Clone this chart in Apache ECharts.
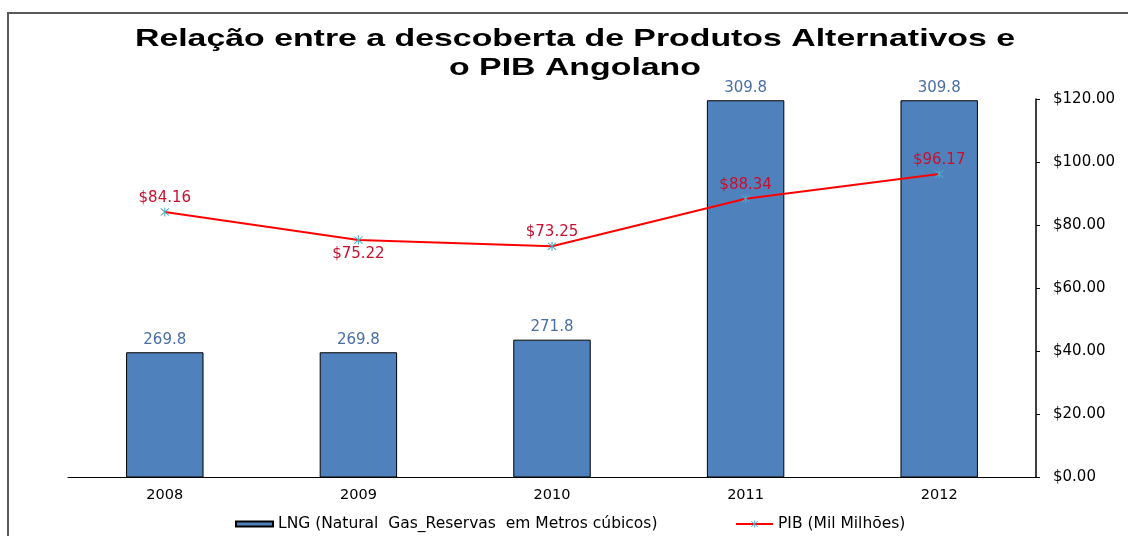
<!DOCTYPE html>
<html>
<head>
<meta charset="utf-8">
<script src="https://cdn.jsdelivr.net/npm/echarts@6/dist/echarts.min.js"></script>
<style>
  html, body { margin: 0; padding: 0; background: #fff; }
  #chart { width: 1128px; height: 536px; }
</style>
</head>
<body>
<div id="chart"></div>
<script>
    // anos e valores
    var years = ['2008', '2009', '2010', '2011', '2012'];
    var lngValues = [269.8, 269.8, 271.8, 309.8, 309.8];
    var pibValues = [84.16, 75.22, 73.25, 88.34, 96.17];
    var pibLabelPos = ['top', 'bottom', 'top', 'top', 'top'];
    var dollarTicks = { min: 0, max: 120, interval: 20 };

    var lngName = 'LNG (Natural  Gas_Reservas  em Metros cúbicos)';
    var pibName = 'PIB (Mil Milhões)';
    var wideFont = '"DejaVu Sans", Verdana, sans-serif';

    // asterisco do Excel (vertical + duas diagonais)
    var asterisk = 'path://M4.5,0L5.5,0L5.5,10L4.5,10Z' +
        'M1.4,0.7L9.3,8.6L8.6,9.3L0.7,1.4Z' +
        'M8.6,0.7L9.3,1.4L1.4,9.3L0.7,8.6Z';

    var myChart = echarts.init(document.getElementById('chart'));

    var pibData = pibValues.map(function (v, i) {
        return {
            value: v,
            label: { position: pibLabelPos[i] }
        };
    });

    var legendText = { fontSize: 15.5, color: '#000', fontFamily: wideFont };

    var option = {
        animation: false,
        textStyle: { fontFamily: wideFont },
        graphic: [{
            type: 'rect',
            shape: { x: 8, y: 13, width: 1200, height: 600 },
            style: { fill: 'none', stroke: '#595959', lineWidth: 2 },
            silent: true
        }, {
            // titulo esticado na horizontal como no original
            type: 'text',
            x: 575,
            y: 25,
            scaleX: 1.41,
            silent: true,
            style: {
                text: 'Relação entre a descoberta de Produtos Alternativos e\no PIB Angolano',
                fontFamily: '"Liberation Sans", Arial, sans-serif',
                fontSize: 24,
                fontWeight: 'bold',
                lineHeight: 29,
                fill: '#000',
                align: 'center',
                verticalAlign: 'top'
            }
        }],
        legend: [{
            top: 516,
            left: 235,
            padding: 0,
            itemWidth: 37,
            itemHeight: 5,
            icon: 'rect',
            textStyle: legendText,
            data: [lngName]
        }, {
            top: 516,
            left: 735,
            padding: 0,
            itemWidth: 37,
            itemHeight: 9,
            textStyle: legendText,
            data: [pibName]
        }],
        grid: {
            left: 68,
            right: 92,
            top: 99,
            bottom: 59
        },
        xAxis: {
            type: 'category',
            data: years,
            axisLine: { lineStyle: { color: '#000', width: 1 } },
            axisTick: { show: false },
            axisLabel: { color: '#000', fontSize: 14.5, margin: 11 }
        },
        yAxis: [{
            type: 'value',
            min: 250,
            max: 310,
            show: false,
            splitLine: { show: false }
        }, {
            type: 'value',
            position: 'right',
            min: dollarTicks.min,
            max: dollarTicks.max,
            interval: dollarTicks.interval,
            axisLine: { show: true, lineStyle: { color: '#000', width: 1.5 } },
            axisTick: { show: true, length: 4, lineStyle: { color: '#000' } },
            splitLine: { show: false },
            axisLabel: {
                color: '#000',
                fontSize: 15,
                margin: 17,
                formatter: function (v) { return '$' + v.toFixed(2); }
            }
        }],
        series: [{
            name: lngName,
            type: 'bar',
            yAxisIndex: 0,
            data: lngValues,
            barWidth: '40%',
            itemStyle: { color: '#4F81BD', borderColor: '#000', borderWidth: 1 },
            label: {
                show: true,
                position: 'top',
                distance: 5,
                color: '#4A6FA5',
                fontSize: 15,
                formatter: function (p) { return p.value.toFixed(1); }
            }
        }, {
            name: pibName,
            type: 'line',
            yAxisIndex: 1,
            data: pibData,
            symbol: asterisk,
            symbolSize: 9,
            itemStyle: { color: '#4BACC6' },
            lineStyle: { color: '#FF0000', width: 2 },
            label: {
                show: true,
                distance: 2,
                color: '#C8102E',
                fontSize: 15,
                formatter: function (p) { return '$' + p.value.toFixed(2); }
            }
        }]
    };

    myChart.setOption(option);
</script>
</body>
</html>
